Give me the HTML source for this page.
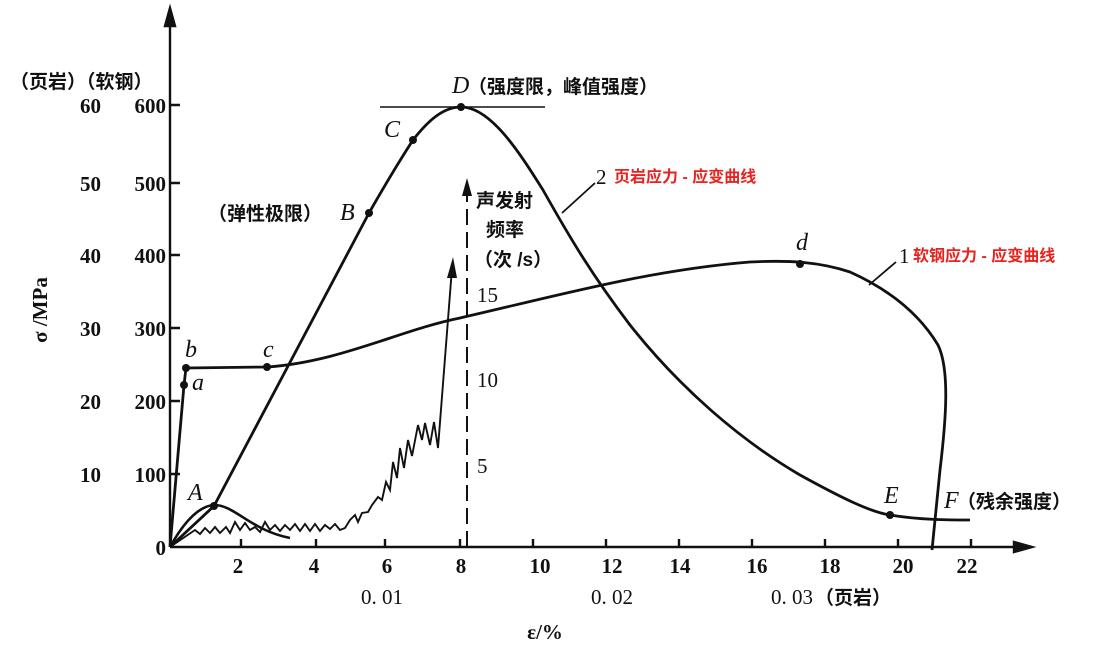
<!DOCTYPE html>
<html><head><meta charset="utf-8"><style>
body{margin:0;background:#fff;}
svg{display:block;font-family:"Liberation Serif","Noto Serif CJK SC",serif;}
.t{font-size:21px;font-weight:bold;fill:#111;}
.n{font-size:21px;fill:#111;}
.c{font-family:"Liberation Sans","Noto Sans CJK SC",sans-serif;font-size:19px;font-weight:bold;fill:#111;}
.r{font-family:"Liberation Sans","Noto Sans CJK SC",sans-serif;font-size:16px;font-weight:bold;fill:#e8231f;}
.i{font-style:italic;font-size:24px;fill:#111;}
</style></head><body>
<svg width="1106" height="650" viewBox="0 0 1106 650">
<g stroke="#111" stroke-width="2.4" fill="none">
<line x1="170" y1="547" x2="170" y2="14"/>
<polygon points="170,8 165,26 175,26" fill="#111"/>
<line x1="170" y1="547" x2="1025" y2="547"/>
<polygon points="1032,547 1014,542 1014,552" fill="#111"/>
<path d="M170 105h10M170 183h10M170 255h10M170 328h10M170 401h10M170 474h10"/>
<path d="M241 547v-8M316 547v-8M385 547v-8M460 547v-8M533 547v-8M606 547v-8M679 547v-8M752 547v-8M825 547v-8M898 547v-8M971 547v-8"/>
<line x1="380" y1="107" x2="545" y2="107" stroke-width="1.6"/>
<path d="M170 547 L214 506 L369 213 C385 185 400 160 413 140 C430 118 445 107 461 107 C490 107 518 150 543 190 C570 238 592 275 630 325 C680 388 740 440 800 475 C840 497 870 512 890 515 C920 520 950 520 970 520" stroke-width="2.8"/>
<path d="M170 547 L184 385 L186 368 L267 367 C340 362 400 330 460 318 C560 295 650 270 750 262 C790 260 820 262 850 272 C890 290 920 315 938 345 C950 370 946 420 940 470 L932 550" stroke-width="2.8"/>
<path d="M170 547 C185 520 200 506 214 505 C235 505 250 530 290 538" stroke-width="2.6"/>
<path d="M170 547 L195 530 L200 534 L205 528 L210 533 L215 527 L220 533 L226 527 L230 533 L235 522 L240 530 L245 523 L250 530 L255 527 L260 532 L265 522 L270 530 L275 525 L280 531 L285 525 L290 530 L295 524 L300 531 L305 524 L310 531 L315 524 L320 531 L325 525 L330 529 L335 524 L340 530 L345 528 L350 520 L355 515 L358 522 L362 513 L368 512 L372 505 L378 497 L382 500 L386 482 L390 490 L393 462 L397 478 L400 448 L404 468 L408 440 L412 456 L418 425 L422 440 L425 423 L430 445 L434 422 L438 448 L452 268" stroke-width="1.9"/>
<polygon points="453,257 447,278 457,278" fill="#111" stroke="none"/>
<line x1="467" y1="547" x2="467" y2="190" stroke-dasharray="16,7" stroke-width="2"/>
<polygon points="467,178 462,196 472,196" fill="#111" stroke="none"/>
<line x1="595" y1="183" x2="562" y2="213" stroke-width="1.8"/>
<line x1="896" y1="262" x2="869" y2="285" stroke-width="1.8"/>
</g>
<g fill="#111">
<circle cx="214" cy="506" r="4"/><circle cx="369" cy="213" r="4"/><circle cx="413" cy="140" r="4"/><circle cx="461" cy="107" r="4"/><circle cx="890" cy="515" r="4"/>
<circle cx="184" cy="385" r="4"/><circle cx="186" cy="368" r="4"/><circle cx="267" cy="367" r="4"/><circle cx="800" cy="264" r="4"/>
</g>
<g class="t" text-anchor="end">
<text x="166" y="113">600</text><text x="166" y="191">500</text><text x="166" y="263">400</text><text x="166" y="336">300</text><text x="166" y="409">200</text><text x="166" y="482">100</text><text x="166" y="555">0</text>
<text x="101" y="113">60</text><text x="101" y="191">50</text><text x="101" y="263">40</text><text x="101" y="336">30</text><text x="101" y="409">20</text><text x="101" y="482">10</text>
</g>
<text class="c" x="10" y="88" font-size="20">（页岩）（软钢）</text>
<text class="t" transform="translate(47,310) rotate(-90)" text-anchor="middle" font-size="18">σ /MPa</text>
<g class="t" text-anchor="middle">
<text x="238" y="573">2</text><text x="314" y="573">4</text><text x="387" y="573">6</text><text x="461" y="573">8</text><text x="540" y="573">10</text><text x="612" y="573">12</text><text x="680" y="573">14</text><text x="757" y="573">16</text><text x="830" y="573">18</text><text x="903" y="573">20</text><text x="967" y="573">22</text>
<text x="545" y="639">ε/%</text>
</g>
<g class="n" text-anchor="middle">
<text x="382" y="604">0. 01</text><text x="612" y="604">0. 02</text>
</g>
<text x="771" y="604" class="n">0. 03</text><text x="815" y="604" class="c" font-weight="normal" font-size="20">（页岩）</text>
<text class="i" x="188" y="500">A</text>
<text class="i" x="340" y="220">B</text>
<text class="c" x="208" y="220">（弹性极限）</text>
<text class="i" x="384" y="137">C</text>
<text class="i" x="452" y="93">D</text><text class="c" x="468" y="93">（强度限，峰值强度）</text>
<text class="i" x="884" y="503">E</text>
<text class="i" x="944" y="508">F</text><text class="c" x="957" y="508">（残余强度）</text>
<text class="i" x="185" y="357">b</text><text class="i" x="192" y="390">a</text><text class="i" x="263" y="357">c</text><text class="i" x="796" y="250">d</text>
<text class="c" x="476" y="207">声发射</text>
<text class="c" x="486" y="236">频率</text>
<text class="c" x="474" y="266">（次 /s）</text>
<text class="n" x="477" y="302">15</text>
<text class="n" x="477" y="387">10</text>
<text class="n" x="477" y="473">5</text>
<text class="n" x="596" y="184">2</text><text class="r" x="614" y="182">页岩应力 - 应变曲线</text>
<text class="n" x="899" y="263">1</text><text class="r" x="913" y="261">软钢应力 - 应变曲线</text>
</svg>
</body></html>
